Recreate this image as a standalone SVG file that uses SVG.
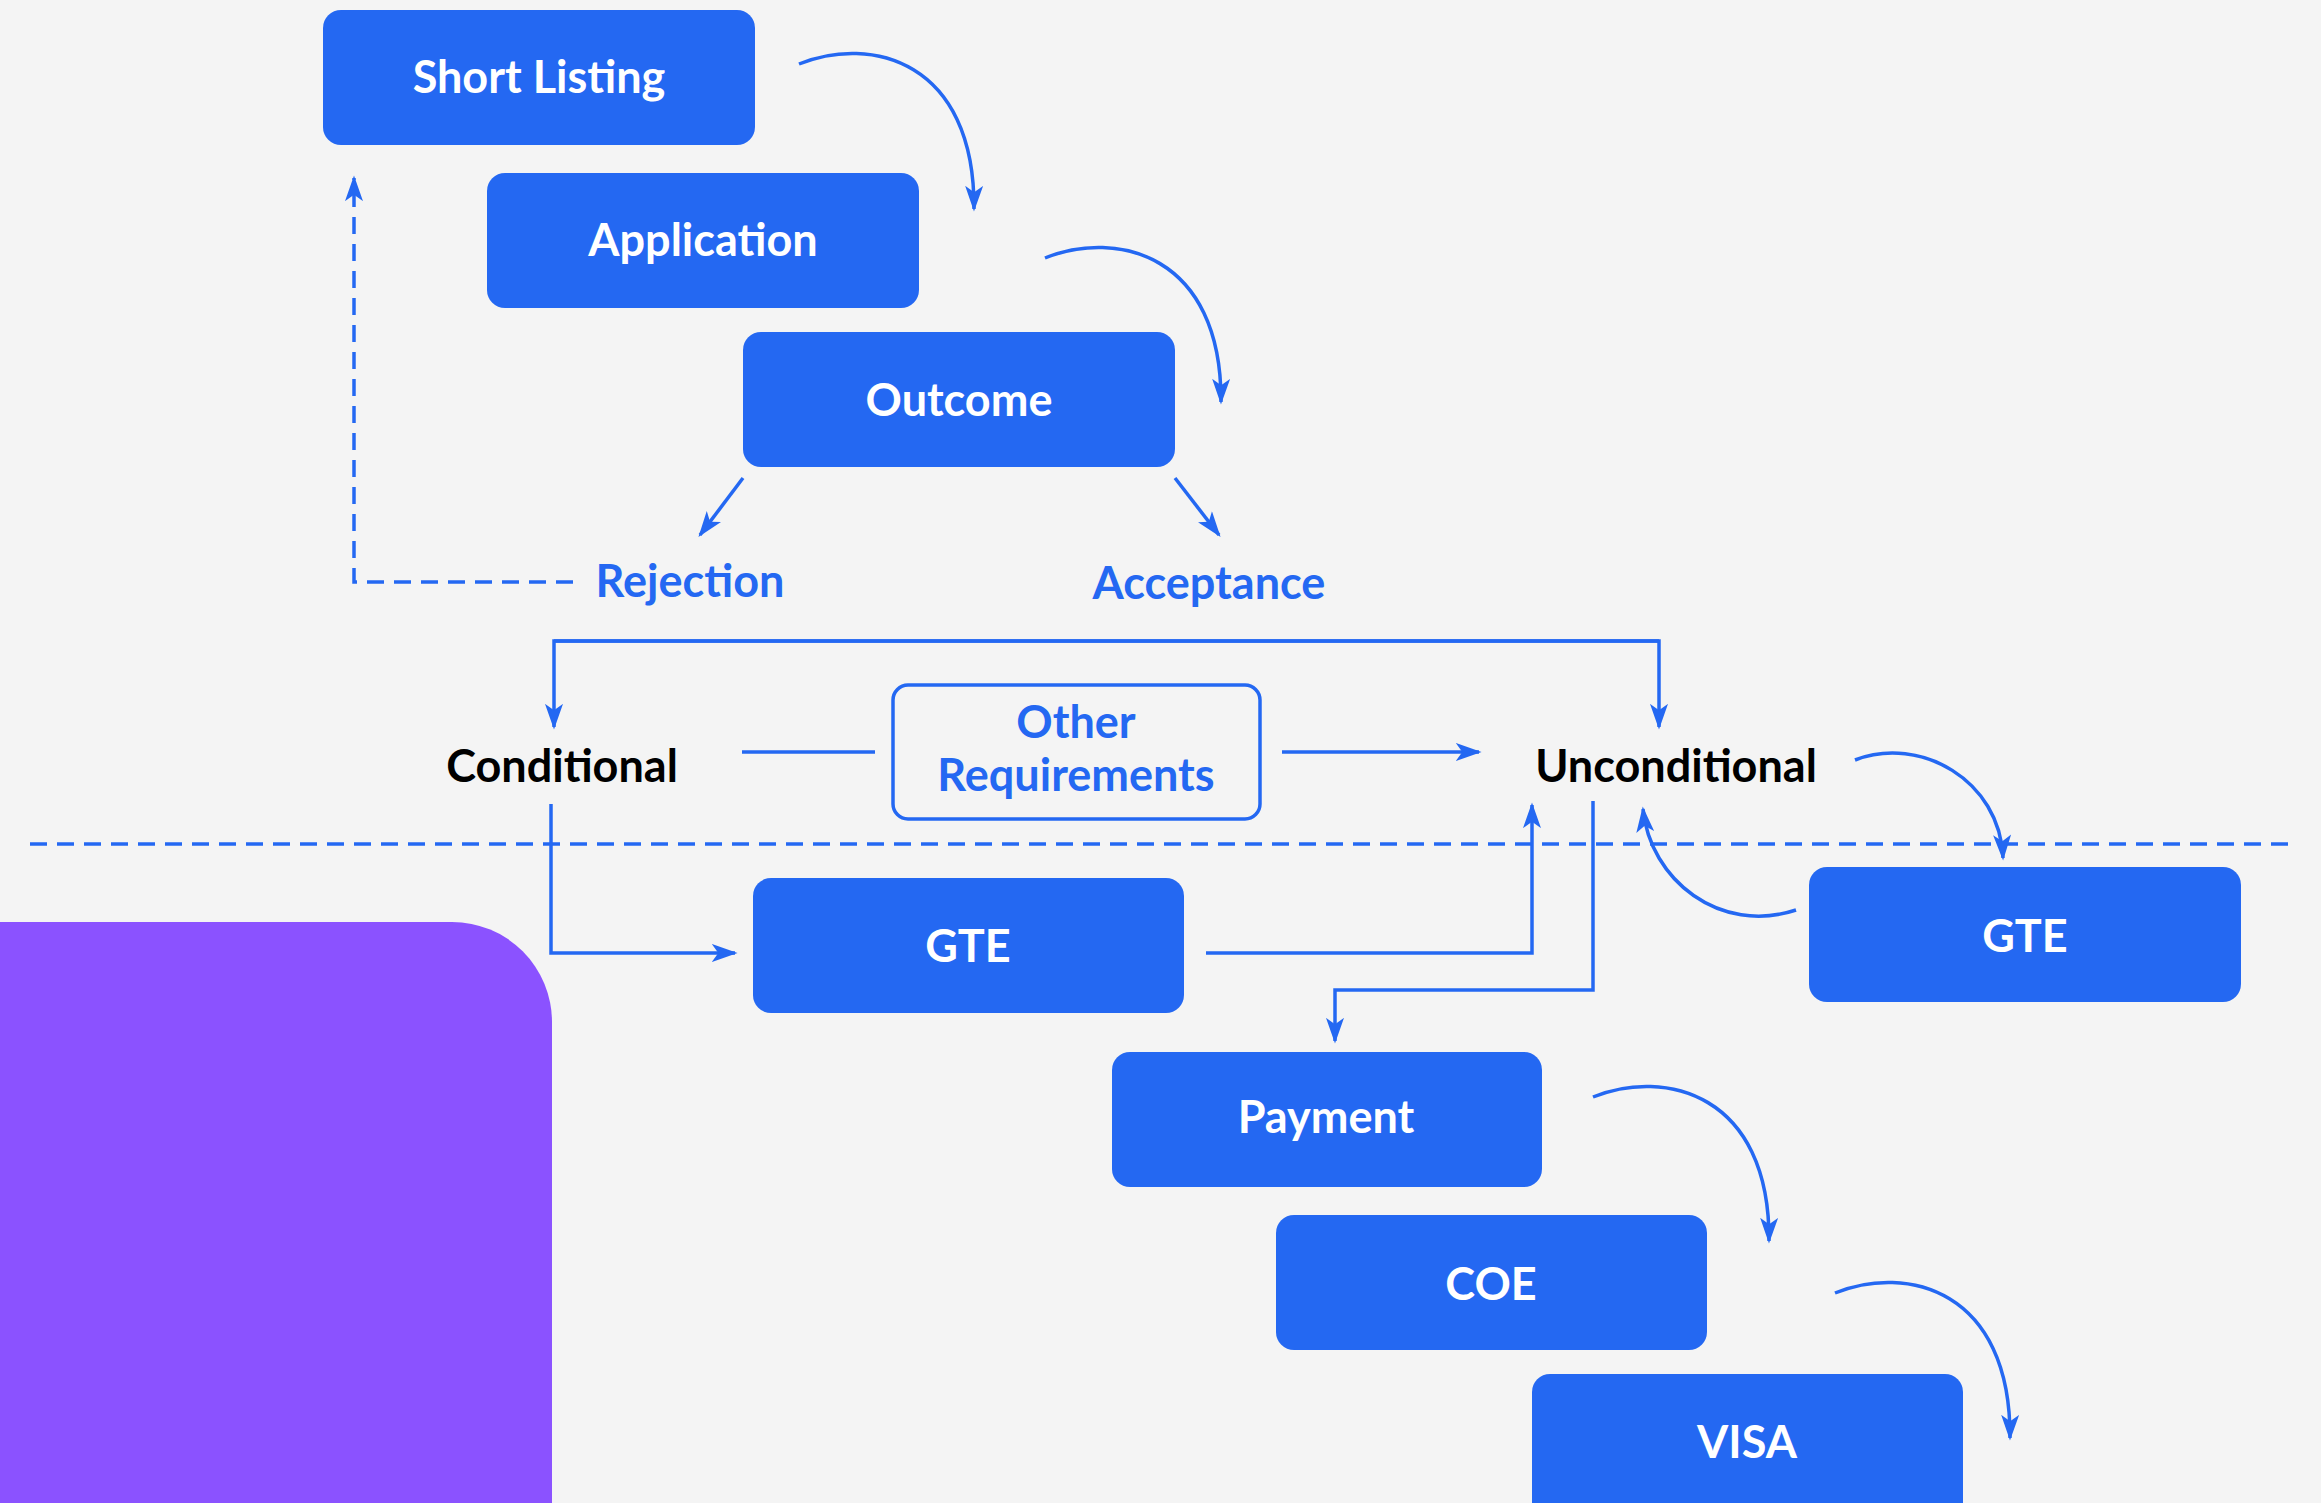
<svg xmlns="http://www.w3.org/2000/svg" width="2321" height="1503" viewBox="0 0 2321 1503">
<style>
.box{fill:#2468F2}
.btxt{font-family:Lato,"Noto Sans",sans-serif;font-weight:700;font-size:45px;fill:#fff;text-anchor:middle;dominant-baseline:central}
.blue{font-family:Lato,"Noto Sans",sans-serif;font-weight:700;font-size:45px;fill:#2468F2;text-anchor:middle;dominant-baseline:central}
.black{font-family:Lato,"Noto Sans",sans-serif;font-weight:700;font-size:45px;fill:#000;text-anchor:middle;dominant-baseline:central}
.ln{fill:none;stroke:#2468F2;stroke-width:3.5}
.dash{fill:none;stroke:#2468F2;stroke-width:3.5;stroke-dasharray:17 10}
</style>
<defs>
<marker id="ah" viewBox="0 0 20 14" refX="18" refY="7" markerWidth="26" markerHeight="18" markerUnits="userSpaceOnUse" orient="auto">
<path d="M0,0 L20,7 L0,14 L5,7 z" fill="#2468F2"/>
</marker>
</defs>
<rect width="2321" height="1503" fill="#F4F4F4"/>
<path d="M0,922 H452 A100,100 0 0 1 552,1022 V1503 H0 z" fill="#8B52FF"/>

<g id="connectors">
<path class="ln" marker-end="url(#ah)" d="M799,64 C870,35 975,60 974,209"/>
<path class="ln" marker-end="url(#ah)" d="M1045,258 C1116,229 1222,254 1221,402"/>
<path class="ln" marker-end="url(#ah)" d="M743,478 L700,535"/>
<path class="ln" marker-end="url(#ah)" d="M1175,478 L1219,535"/>
<path class="dash" marker-end="url(#ah)" d="M573,582 H354 V178"/>
<path class="ln" marker-end="url(#ah)" d="M1659,641 H554 V727"/>
<path class="ln" marker-end="url(#ah)" d="M554,641 H1659 V727"/>
<path class="ln" d="M742,752 H875"/>
<path class="ln" marker-end="url(#ah)" d="M1282,752 H1479"/>
<path class="dash" d="M30,844 H2297"/>
<path class="ln" marker-end="url(#ah)" d="M551,804 V953 H735"/>
<path class="ln" marker-end="url(#ah)" d="M1206,953 H1532 V805"/>
<path class="ln" marker-end="url(#ah)" d="M1593,801 V990 H1335 V1041"/>
<path class="ln" marker-end="url(#ah)" d="M1855,760 C1920,735 2000,780 2003,858"/>
<path class="ln" marker-end="url(#ah)" d="M1796,910 C1720,935 1650,880 1643,809"/>
<path class="ln" marker-end="url(#ah)" d="M1593,1097 C1664,1068 1770,1093 1769,1241"/>
<path class="ln" marker-end="url(#ah)" d="M1835,1293 C1906,1264 2011,1289 2010,1438"/>
</g>

<g id="short-listing"><rect class="box" x="323" y="10" width="432" height="135" rx="18"/><text class="btxt" x="539" y="76">Short Listing</text></g>
<g id="application"><rect class="box" x="487" y="173" width="432" height="135" rx="18"/><text class="btxt" x="703" y="239">Application</text></g>
<g id="outcome"><rect class="box" x="743" y="332" width="432" height="135" rx="18"/><text class="btxt" x="959" y="399">Outcome</text></g>
<g id="rejection"><text class="blue" x="690" y="580">Rejection</text></g>
<g id="acceptance"><text class="blue" x="1209" y="582">Acceptance</text></g>
<g id="conditional"><text class="black" x="562" y="765">Conditional</text></g>
<g id="unconditional"><text class="black" x="1676" y="765">Unconditional</text></g>
<g id="other-requirements"><rect x="893" y="685" width="367" height="134" rx="15" fill="none" stroke="#2468F2" stroke-width="3.5"/><text class="blue" x="1076" y="721">Other</text><text class="blue" x="1076" y="774">Requirements</text></g>
<g id="gte-1"><rect class="box" x="753" y="878" width="431" height="135" rx="18"/><text class="btxt" x="968" y="945">GTE</text></g>
<g id="gte-2"><rect class="box" x="1809" y="867" width="432" height="135" rx="18"/><text class="btxt" x="2025" y="935">GTE</text></g>
<g id="payment"><rect class="box" x="1112" y="1052" width="430" height="135" rx="18"/><text class="btxt" x="1326" y="1116">Payment</text></g>
<g id="coe"><rect class="box" x="1276" y="1215" width="431" height="135" rx="18"/><text class="btxt" x="1491" y="1283">COE</text></g>
<g id="visa"><rect class="box" x="1532" y="1374" width="431" height="150" rx="18"/><text class="btxt" x="1747" y="1441">VISA</text></g>
</svg>
